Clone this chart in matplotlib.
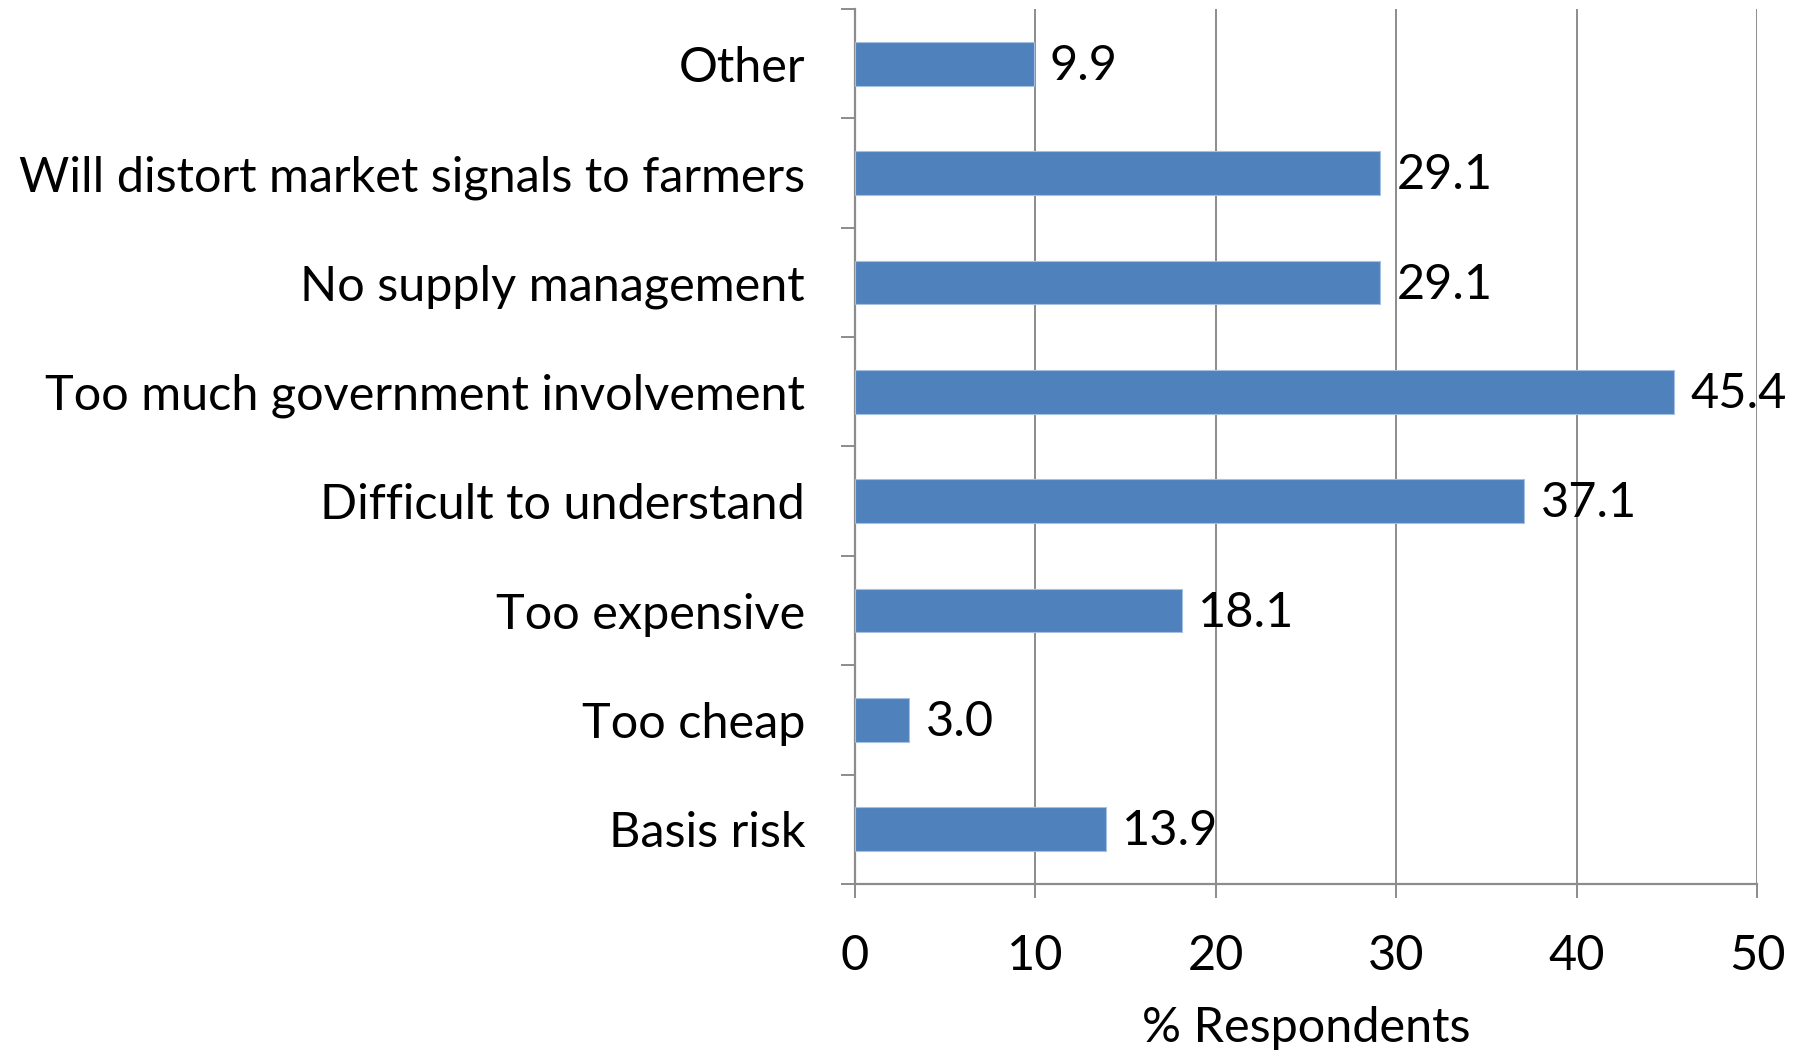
import numpy as np
import matplotlib
matplotlib.use("Agg")
import matplotlib.pyplot as plt

# categories listed from bottom to top
categorias = ['Basis risk', 'Too cheap', 'Too expensive', 'Difficult to understand',
              'Too much government involvement', 'No supply management',
              'Will distort market signals to farmers', 'Other']
valores = [13.9, 3.0, 18.1, 37.1, 45.4, 29.1, 29.1, 9.9]
xticks = [0, 10, 20, 30, 40, 50]


def main():
    plt.rcParams['font.family'] = ['Lato', 'DejaVu Sans']
    gris = '#8c8c8c'
    fs = 35

    fig = plt.figure(figsize=(18.04, 10.53), dpi=100)
    ax = fig.add_axes([0.474, 0.1605, 0.5, 0.831])

    y = np.arange(len(categorias))
    ax.barh(y, valores, height=0.4, color='#4f81bd', edgecolor='#a6c0e0',
            linewidth=0.8, zorder=3)
    for yi, v in zip(y, valores):
        ax.text(v + 0.9, yi - 0.02, f'{v:.1f}', va='center', ha='left',
                fontsize=fs, color='black', zorder=4)

    ax.set_xlim(0, 50)
    ax.set_ylim(-0.5, len(categorias) - 0.5)
    ax.set_xticks(xticks)
    ax.set_xticklabels([str(t) for t in xticks], fontsize=fs)
    ax.set_yticks(y)
    ax.set_yticklabels(categorias, fontsize=fs)
    ax.set_yticks(np.arange(-0.5, len(categorias), 1), minor=True)

    ax.tick_params(axis='y', which='major', length=0, pad=36)
    ax.tick_params(axis='y', which='minor', length=10, width=1.4, color=gris)
    ax.tick_params(axis='x', which='major', length=10, width=1.4, color=gris, pad=26)

    ax.xaxis.grid(True, color=gris, linewidth=1.4, zorder=0)
    for lado in ['top', 'right']:
        ax.spines[lado].set_visible(False)
    for lado in ['left', 'bottom']:
        ax.spines[lado].set_color(gris)
        ax.spines[lado].set_linewidth(1.6)

    ax.set_xlabel('% Respondents', fontsize=fs, labelpad=20)

    fig.savefig('out.png', dpi=100)


if __name__ == '__main__':
    main()
